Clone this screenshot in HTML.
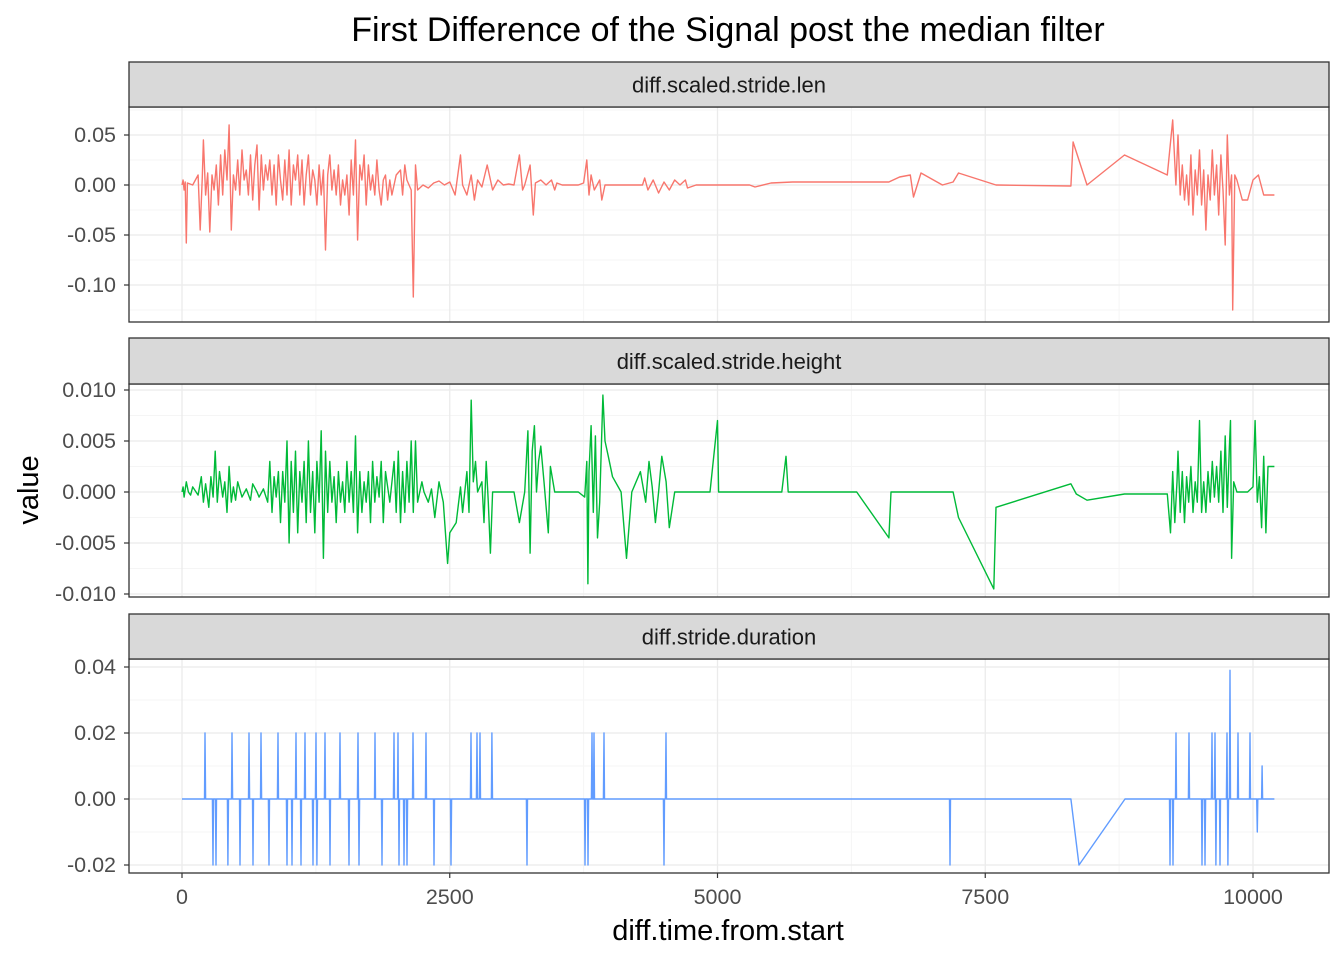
<!DOCTYPE html>
<html><head><meta charset="utf-8"><style>
body{margin:0;background:#fff;}
svg text{font-family:"Liberation Sans",Arial,sans-serif;}
</style></head><body>
<svg id="chart" width="1344" height="960" xmlns="http://www.w3.org/2000/svg">
<rect width="1344" height="960" fill="#fff"/>
<text x="728" y="41" font-size="34" text-anchor="middle" fill="#000">First Difference of the Signal post the median filter</text>
<text x="728" y="940" font-size="29" text-anchor="middle" fill="#000">diff.time.from.start</text>
<text transform="translate(38,490) rotate(-90)" font-size="29" text-anchor="middle" fill="#000">value</text>
</svg>
<script>
const xTicks=[0,2500,5000,7500,10000];
const xTickLabels=["0","2500","5000","7500","10000"];
const panelNames=["diff.scaled.stride.len","diff.scaled.stride.height","diff.stride.duration"];
const len_t=[0,10,20,30,40,50,100,150,170,190,200,220,240,260,280,300,320,340,360,380,400,420,440,460,480,500,520,540,560,580,600,620,640,660,680,700,720,740,760,780,800,820,840,860,880,900,920,940,960,980,1000,1020,1040,1060,1080,1100,1120,1140,1160,1180,1200,1220,1240,1260,1280,1300,1320,1340,1360,1380,1400,1420,1440,1460,1480,1500,1520,1540,1560,1580,1600,1620,1640,1660,1680,1700,1720,1740,1760,1780,1800,1820,1840,1860,1880,1900,1920,1940,1960,2000,2040,2060,2080,2100,2140,2160,2180,2200,2250,2300,2350,2400,2450,2500,2550,2600,2620,2660,2700,2730,2760,2800,2850,2900,2950,3000,3050,3100,3150,3180,3200,3250,3280,3300,3350,3400,3450,3480,3500,3550,3700,3750,3780,3800,3820,3850,3900,3920,3950,4300,4320,4350,4400,4450,4500,4550,4600,4650,4700,4720,4800,5300,5350,5500,5700,6600,6700,6800,6830,6900,7100,7200,7250,7600,8300,8320,8450,8800,9200,9250,9280,9300,9320,9340,9360,9380,9400,9420,9440,9460,9480,9500,9520,9540,9560,9580,9600,9620,9640,9660,9680,9700,9720,9740,9760,9780,9800,9810,9830,9850,9900,9950,10000,10050,10100,10200];
const len_v=[0,0.005,-0.005,0.003,-0.058,0.002,0,0.01,-0.045,0.008,0.045,-0.01,0.012,-0.047,0.01,-0.005,0.02,-0.02,0.03,-0.01,0.035,0.005,0.06,-0.045,0.01,-0.005,0.025,-0.01,0.035,0.005,0.015,-0.01,0.03,-0.015,0.02,0.04,-0.025,0.03,-0.005,0.02,0.005,0.025,-0.01,0.02,-0.02,0.03,0.005,-0.015,0.025,-0.01,0.035,-0.02,0.02,0.005,0.03,-0.01,0.025,-0.02,0.01,0.03,-0.01,0.015,0.005,-0.02,0.02,-0.01,0.015,-0.065,0.01,0.03,-0.005,0.015,-0.01,0.02,-0.02,0.005,-0.01,0.01,-0.03,0.025,-0.01,0.045,-0.055,0.02,0.005,0.03,-0.02,0.02,-0.005,0.01,-0.01,0.025,-0.005,-0.02,0.005,0.01,-0.015,0.005,-0.01,0.01,0.015,-0.01,0.02,0.005,-0.005,-0.112,0.02,-0.005,0,-0.003,0.002,0.004,0,0.003,-0.01,0.03,0,-0.01,0.01,-0.015,0.005,-0.002,0.02,-0.005,0.005,0,0.001,0,0.03,-0.005,0,0.02,-0.03,0.002,0.005,0,0.005,-0.005,0.002,0,0,0.002,0.025,-0.01,0.01,-0.005,0.005,-0.015,0,0,0.007,-0.005,0.005,-0.008,0.003,-0.005,0.005,0,0.005,-0.003,0,0,-0.002,0.002,0.003,0.003,0.008,0.01,-0.012,0.012,0,0.003,0.012,0,-0.001,0.043,0,0.03,0.01,0.065,0,0.05,-0.01,0.02,-0.015,0.01,-0.02,0.03,-0.03,0.015,-0.01,0.035,-0.02,0.015,-0.045,0.01,-0.015,0.035,-0.01,0.02,-0.03,0.03,-0.005,-0.06,0.05,-0.01,0.01,-0.125,0.01,0.005,-0.015,-0.015,0.005,0.01,-0.01,-0.01];
const hgt_t=[0,10,20,40,60,80,100,150,180,200,220,250,270,290,310,330,350,380,400,420,440,460,480,500,520,560,600,640,660,700,720,760,800,820,840,860,880,900,920,940,960,980,1000,1020,1040,1060,1080,1100,1120,1140,1160,1180,1200,1220,1240,1260,1280,1300,1320,1340,1360,1380,1400,1420,1440,1460,1480,1500,1520,1540,1560,1580,1600,1620,1640,1660,1680,1700,1720,1740,1760,1780,1800,1820,1840,1860,1880,1900,1940,1980,2000,2020,2040,2060,2080,2100,2120,2140,2160,2180,2200,2240,2260,2300,2330,2360,2400,2440,2480,2500,2560,2600,2620,2660,2680,2700,2720,2740,2760,2800,2820,2840,2860,2880,2900,3000,3100,3150,3200,3230,3250,3270,3290,3310,3330,3350,3380,3420,3440,3480,3700,3760,3780,3790,3800,3820,3840,3860,3880,3900,3930,3950,3980,4020,4100,4150,4200,4280,4330,4360,4390,4420,4450,4480,4520,4550,4600,4650,4930,5000,5010,5600,5640,5660,6300,6600,6620,7200,7250,7580,7600,8300,8350,8450,8800,9200,9230,9250,9270,9290,9300,9320,9340,9360,9380,9400,9420,9440,9460,9480,9500,9520,9540,9560,9580,9600,9620,9640,9660,9680,9700,9720,9740,9760,9780,9790,9800,9820,9850,9950,10000,10020,10040,10060,10080,10100,10120,10140,10200];
const hgt_v=[0,0.0005,-0.0005,0.001,0,-0.0003,0.0005,-0.0003,0.0015,-0.001,0.0008,-0.0015,0.0015,-0.0005,0.004,-0.001,0.002,-0.0005,0.001,-0.002,0.0025,-0.001,0.0005,-0.0008,0.001,-0.0005,0.0003,-0.0008,0.0008,0,-0.0005,0.0003,-0.001,0.003,-0.002,0.0015,-0.0005,0.002,-0.003,0.002,-0.001,0.005,-0.005,0.003,-0.002,0.004,-0.004,0.002,-0.001,0.003,-0.003,0.005,-0.002,0.002,-0.004,0.003,-0.001,0.006,-0.0065,0.004,-0.002,0.003,-0.001,0.0015,-0.003,0.002,-0.001,0.001,-0.002,0.003,-0.001,0.002,-0.002,0.0055,-0.004,0.002,-0.002,0.001,-0.001,0.002,-0.003,0.003,-0.001,0.0015,-0.0005,0.003,-0.003,0.002,-0.001,0.003,-0.002,0.004,-0.003,0.002,-0.002,0.003,-0.001,0.005,-0.002,0.005,-0.001,0.001,0,-0.001,0.0003,-0.0025,0.001,-0.001,-0.007,-0.004,-0.003,0.0005,-0.002,0.002,-0.002,0.009,0.001,0.003,0,0.001,-0.003,0.003,-0.001,-0.006,0,0,0,-0.003,0,0.006,-0.006,0.004,0.0065,0,0.003,0.0045,0.001,-0.004,0.0025,0,0,-0.0005,0.003,-0.009,0.002,0.0065,-0.002,0.0055,-0.0045,-0.001,0.0095,0.005,0.0035,0.0015,0,-0.0065,0,0.002,-0.001,0.003,0.0005,-0.003,0,0.0035,0.001,-0.0035,0,0,0,0.007,0,0,0.0035,0,0,-0.0045,0,0,-0.0025,-0.0095,-0.0015,0.0008,-0.0002,-0.0008,-0.0002,-0.0002,-0.004,0.002,-0.003,0.001,0.004,-0.002,0.002,-0.003,0.0015,-0.001,0.0025,-0.002,0.001,-0.001,0.007,-0.002,0.001,-0.002,0.002,-0.001,0.003,-0.0005,0.0025,-0.001,0.004,-0.002,0.0055,-0.0015,0.0045,0.007,-0.0065,0.001,0,0,0.0005,0.007,-0.001,0.0015,-0.0035,0.0035,-0.004,0.0025,0.0025];
const dur_spike_t=[215,289,317,429,467,542,626,663,738,812,896,980,1027,1064,1111,1148,1223,1251,1260,1335,1382,1475,1559,1643,1653,1802,1867,1979,2017,2026,2073,2101,2157,2278,2353,2512,2698,2754,2782,2894,3221,3763,3791,3828,3847,3940,4500,4519,7171,9225,9253,9281,9402,9524,9552,9617,9645,9654,9692,9757,9766,9785,9860,9972,10040,10085];
const dur_spike_v=[0.02,-0.02,-0.02,-0.02,0.02,-0.02,0.02,-0.02,0.02,-0.02,0.02,-0.02,-0.02,0.02,-0.02,0.02,-0.02,0.02,-0.02,0.02,-0.02,0.02,-0.02,0.02,-0.02,0.02,-0.02,0.02,0.02,-0.02,-0.02,-0.02,0.02,0.02,-0.02,-0.02,0.02,0.02,0.02,0.02,-0.02,-0.02,-0.02,0.02,0.02,0.02,-0.02,0.02,-0.02,-0.02,-0.02,0.02,0.02,-0.02,-0.02,0.02,0.02,-0.02,-0.02,0.02,-0.02,0.039,0.02,0.02,-0.01,0.01];
const dur_extra_t=[0,8300,8375,8805,10200];
const dur_extra_v=[0,0,-0.02,0,0];
const yTicks=[[0.05,0,-0.05,-0.1],[0.01,0.005,0,-0.005,-0.01],[0.04,0.02,0,-0.02]];
const yTickLabels=[["0.05","0.00","-0.05","-0.10"],["0.010","0.005","0.000","-0.005","-0.010"],["0.04","0.02","0.00","-0.02"]];
const yMinor=[[0.075,0.025,-0.025,-0.075,-0.125],[0.0075,0.0025,-0.0025,-0.0075],[0.03,0.01,-0.01]];
const xMinor=[1250,3750,6250,8750];

const NS="http://www.w3.org/2000/svg";
const svg=document.getElementById('chart');
const X0=129,X1=1329;
const xs=v=>182+v*0.10710;
const panels=[
 {strip:62,top:107,bot:322,y:v=>185-v*1000,color:"#F8766D"},
 {strip:338,top:384,bot:597,y:v=>492-v*10200,color:"#00BA38"},
 {strip:614,top:659,bot:873,y:v=>799-v*3300,color:"#619CFF"}];
function mk(tag,attrs){const e=document.createElementNS(NS,tag);for(const k in attrs)e.setAttribute(k,attrs[k]);svg.appendChild(e);return e;}
const s3=[];
dur_extra_t.forEach((t,i)=>s3.push([t,dur_extra_v[i]]));
dur_spike_t.forEach((t,i)=>{s3.push([t-5,0]);s3.push([t,dur_spike_v[i]]);s3.push([t+5,0]);});
s3.sort((a,b)=>a[0]-b[0]);
const series=[len_t.map((t,i)=>[t,len_v[i]]),hgt_t.map((t,i)=>[t,hgt_v[i]]),s3];
panels.forEach((p,pi)=>{
 const bg=mk('rect',{x:X0,y:p.top,width:X1-X0,height:p.bot-p.top,fill:'#fff'});
 
 
 yMinor[pi].forEach(v=>{const yy=p.y(v);if(yy>p.top&&yy<p.bot){const l=mk('line',{x1:X0,x2:X1,y1:yy,y2:yy,stroke:'#F5F5F5','stroke-width':1});
 
 }});
 xMinor.forEach(v=>{const l=mk('line',{x1:xs(v),x2:xs(v),y1:p.top,y2:p.bot,stroke:'#F5F5F5','stroke-width':1});
 
 });
 yTicks[pi].forEach((v,i)=>{const yy=p.y(v);
  const g=mk('line',{x1:X0,x2:X1,y1:yy,y2:yy,stroke:'#EBEBEB','stroke-width':1.3});
  
  
  const tk=mk('line',{x1:X0-5,x2:X0,y1:yy,y2:yy,stroke:'#333','stroke-width':1.2});
  
  
  const tx=mk('text',{x:X0-13,y:yy+7,'font-size':21.5,'text-anchor':'end',fill:'#4D4D4D'});tx.textContent=yTickLabels[pi][i];
  
  });
 xTicks.forEach(v=>{const g=mk('line',{x1:xs(v),x2:xs(v),y1:p.top,y2:p.bot,stroke:'#EBEBEB','stroke-width':1.3});
  
  });
 const pts=series[pi].map(d=>xs(d[0]).toFixed(1)+','+p.y(d[1]).toFixed(1)).join(' ');
 const pl=mk('polyline',{points:pts,fill:'none',stroke:p.color,'stroke-width':1.4,'stroke-linejoin':'round'});
 
 
 const bd=mk('rect',{x:X0,y:p.top,width:X1-X0,height:p.bot-p.top,fill:'none',stroke:'#333','stroke-width':1.3});
 
 
 const st=mk('rect',{x:X0,y:p.strip,width:X1-X0,height:p.top-p.strip,fill:'#D9D9D9',stroke:'#333','stroke-width':1.3});
 
 
 const stt=mk('text',{x:(X0+X1)/2,y:(p.strip+p.top)/2+8,'font-size':22,'text-anchor':'middle',fill:'#1A1A1A'});stt.textContent=panelNames[pi];
 
 
});
xTicks.forEach((v,i)=>{const tk=mk('line',{x1:xs(v),x2:xs(v),y1:873,y2:878,stroke:'#333','stroke-width':1.2});
 
 
 const tx=mk('text',{x:xs(v),y:904,'font-size':21.5,'text-anchor':'middle',fill:'#4D4D4D'});tx.textContent=xTickLabels[i];
 
 });
</script>
</body></html>
